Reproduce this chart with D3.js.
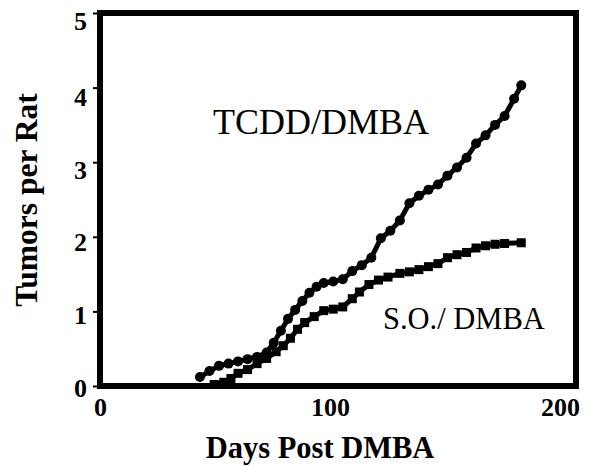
<!DOCTYPE html>
<html><head><meta charset="utf-8">
<script src="https://cdn.jsdelivr.net/npm/d3@7"></script>
<style>body{margin:0;background:#fff}svg{display:block}</style>
</head><body>
<script>
const xTicks = [0, 100, 200];
const yTicks = [0, 1, 2, 3, 4, 5];
const tcddDays = [42, 46, 50, 54, 58, 62, 66, 70, 73, 76, 79, 82, 85, 88, 91, 94, 98, 102, 106, 110, 114, 118, 122, 126, 130, 134, 138, 142, 146, 150, 154, 158, 162, 166, 170, 174, 177];
const tcddVals = [0.12, 0.20, 0.27, 0.30, 0.33, 0.36, 0.39, 0.45, 0.58, 0.74, 0.90, 1.02, 1.14, 1.25, 1.33, 1.38, 1.40, 1.43, 1.54, 1.62, 1.72, 1.98, 2.08, 2.22, 2.45, 2.55, 2.63, 2.70, 2.82, 2.93, 3.06, 3.25, 3.36, 3.50, 3.62, 3.85, 4.03];
const soDays = [48, 52, 55, 58, 62, 66, 70, 74, 77, 80, 83, 86, 90, 94, 98, 102, 106, 109, 113, 117, 121, 126, 130, 134, 138, 142, 146, 150, 154, 158, 162, 166, 170, 177];
const soVals = [0.02, 0.05, 0.10, 0.17, 0.22, 0.30, 0.37, 0.46, 0.54, 0.64, 0.76, 0.85, 0.93, 1.01, 1.03, 1.06, 1.17, 1.26, 1.36, 1.42, 1.46, 1.51, 1.53, 1.56, 1.60, 1.64, 1.72, 1.76, 1.79, 1.85, 1.88, 1.90, 1.91, 1.92];
const seriesLabels = ["TCDD/DMBA", "S.O./ DMBA"];
const xTitle = "Days Post DMBA";
const yTitle = "Tumors per Rat";

const W = 598, H = 466;
const L = 100, R = 576, T = 13, B = 386;
const font = "'Liberation Serif','Times New Roman',serif";

const svg = d3.select("body").append("svg").attr("width", W).attr("height", H);
const x = d3.scaleLinear().domain([0, 200]).range([L, R]);
const y = d3.scaleLinear().domain([0, 5]).range([B, T]);

// y axis ticks & labels
const yAxis = svg.append("g").attr("transform", `translate(${L},0)`)
  .call(d3.axisLeft(y).tickValues(yTicks).tickSize(7).tickPadding(6).tickFormat(d3.format("d")));
yAxis.select(".domain").remove();
yAxis.selectAll("line").attr("stroke", "#000").attr("stroke-width", 2);
yAxis.selectAll("text").style("font-family", font).attr("font-weight", "bold")
  .attr("font-size", 26).attr("fill", "#000").attr("dy", "0.35em")
  .attr("transform", d => `translate(0,${d === 5 ? 7 : 1 + 2 * d})`);

// x axis labels
const xAxis = svg.append("g").attr("transform", `translate(0,${B})`)
  .call(d3.axisBottom(x).tickValues(xTicks).tickSize(0).tickPadding(12).tickFormat(d3.format("d")));
xAxis.select(".domain").remove();
xAxis.selectAll("text").style("font-family", font).attr("font-weight", "bold")
  .attr("font-size", 26).attr("fill", "#000")
  .attr("transform", d => `translate(${-d * 0.08},0)`);

// frame
svg.append("rect").attr("x", L).attr("y", T).attr("width", R - L).attr("height", B - T)
  .attr("fill", "none").attr("stroke", "#000").attr("stroke-width", 6);

const line = d3.line().x(d => x(d[0])).y(d => y(d[1]));
const tcdd = tcddDays.map((d, i) => [d, tcddVals[i]]);
const so = soDays.map((d, i) => [d, soVals[i]]);

svg.append("path").datum(so).attr("d", line).attr("fill", "none").attr("stroke", "#000").attr("stroke-width", 5);
svg.append("g").selectAll("rect").data(so).join("rect")
  .attr("x", d => x(d[0]) - 4.5).attr("y", d => y(d[1]) - 4.5).attr("width", 9).attr("height", 9).attr("fill", "#000");

svg.append("path").datum(tcdd).attr("d", line).attr("fill", "none").attr("stroke", "#000").attr("stroke-width", 5);
svg.append("g").selectAll("circle").data(tcdd).join("circle")
  .attr("cx", d => x(d[0])).attr("cy", d => y(d[1])).attr("r", 5).attr("fill", "#000");

// series labels
svg.append("text").attr("x", 213).attr("y", 134).style("font-family", font).attr("font-size", 36)
  .attr("fill", "#000").text(seriesLabels[0]);
svg.append("text").attr("x", 383).attr("y", 329).style("font-family", font).attr("font-size", 30.5)
  .attr("fill", "#000").text(seriesLabels[1]);

// titles
svg.append("text").attr("transform", "translate(37,200) rotate(-90)").attr("text-anchor", "middle")
  .style("font-family", font).attr("font-weight", "bold").attr("font-size", 31.5).attr("fill", "#000").text(yTitle);
svg.append("text").attr("x", 320).attr("y", 458).attr("text-anchor", "middle")
  .style("font-family", font).attr("font-weight", "bold").attr("font-size", 30.5).attr("fill", "#000").text(xTitle);
</script>
</body></html>
